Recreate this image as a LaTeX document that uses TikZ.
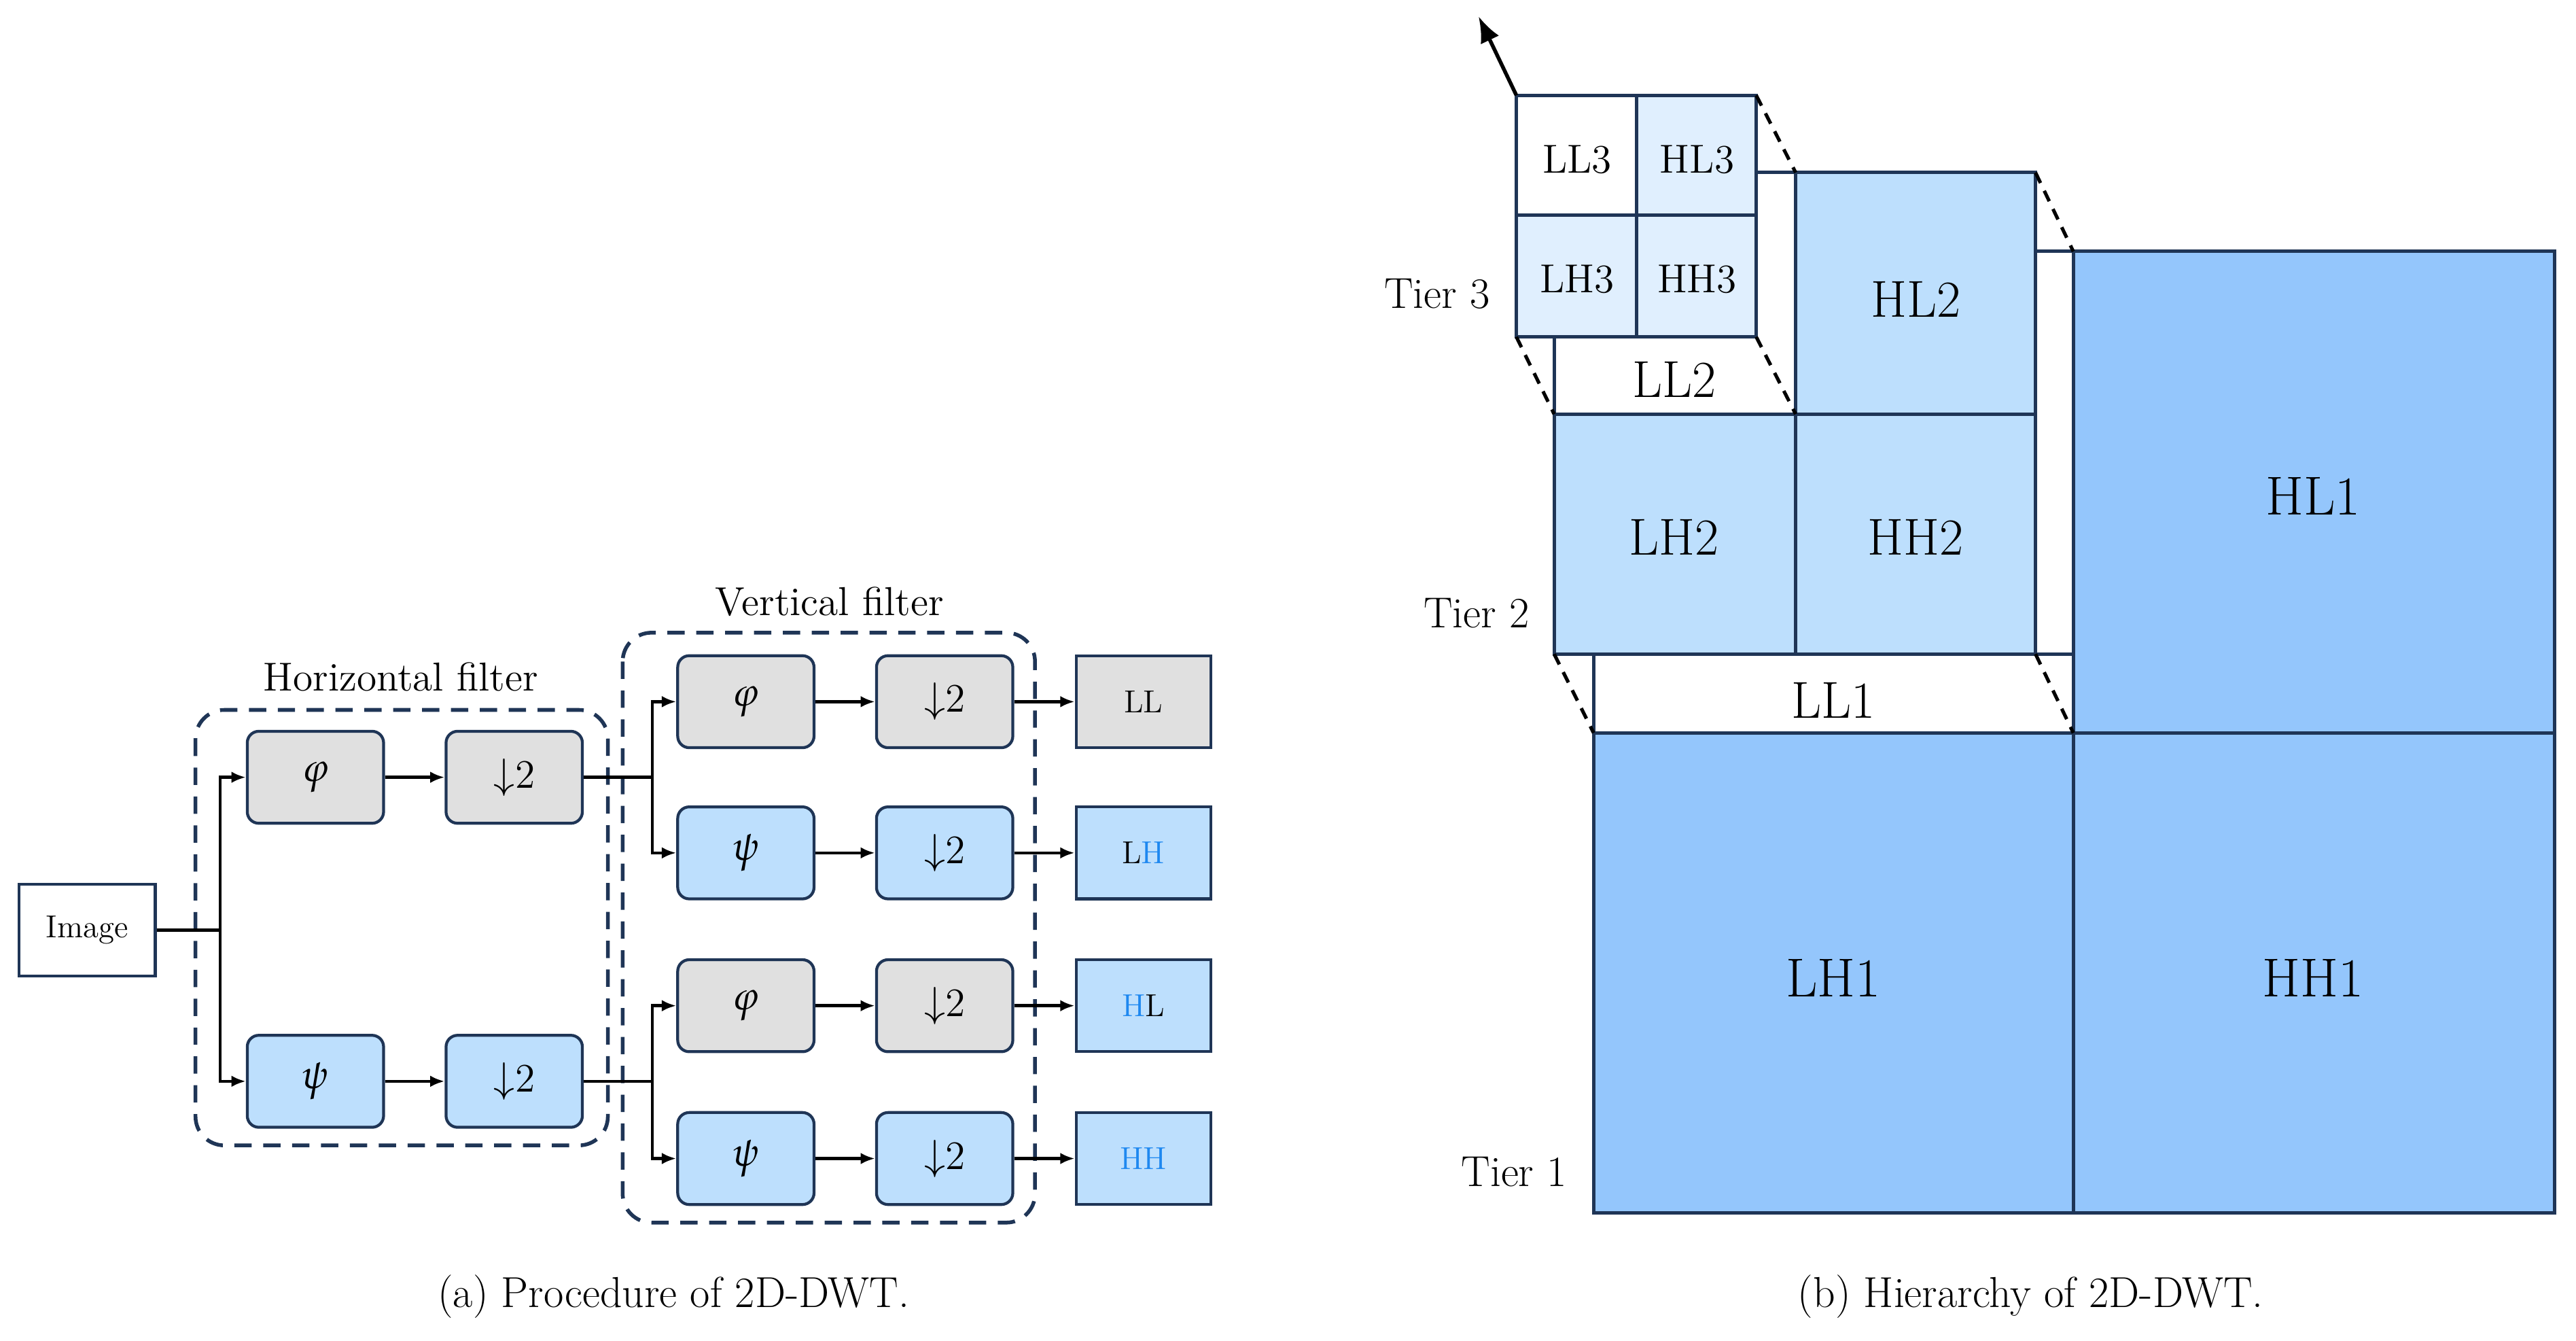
\documentclass[tikz,border=0pt]{standalone}
\usepackage{mathpazo}
\usepackage{tikz}
\usetikzlibrary{arrows.meta,positioning}
\definecolor{navy}{HTML}{1F3556}
\definecolor{greybox}{HTML}{E0E0E0}
\definecolor{bluebox}{HTML}{BDDFFD}
\definecolor{tierone}{HTML}{94C6FC}
\definecolor{tiertwo}{HTML}{BDDFFD}
\definecolor{tierthree}{HTML}{E0EFFE}
\definecolor{hlblue}{HTML}{1E88F0}

\begin{document}
\begin{tikzpicture}[
  x=0.02cm, y=-0.02cm,
  filt/.style={draw=navy,line width=1pt,rounded corners=4pt,minimum width=1.66cm,minimum height=1.12cm,inner sep=0pt,font=\fontsize{14}{16}\selectfont},
  gfilt/.style={filt,fill=greybox},
  bfilt/.style={filt,fill=bluebox},
  outbox/.style={draw=navy,line width=1pt,minimum width=1.64cm,minimum height=1.12cm,inner sep=0pt,font=\fontsize{11}{13}\selectfont},
  flow/.style={-{Latex[length=5pt,width=4pt]},line width=1.1pt},
  group/.style={draw=navy,dashed,line width=1.3pt,rounded corners=10pt,dash pattern=on 6pt off 4pt},
  sub/.style={draw=navy,line width=1.2pt},
  cut/.style={dashed,line width=1.2pt,dash pattern=on 4pt off 3pt},
  tier/.style={font=\fontsize{15}{18}\selectfont,anchor=east},
  ]
  \useasboundingbox (0,0) rectangle (1568,816);
  %Procedure
  \draw[group] (119,432) rectangle (370,697);
  \draw[group] (379,385) rectangle (630,744);
  \node[font=\bfseries\fontsize{14}{16}\selectfont] at (244,412) {Horizontal filter};
  \node[font=\bfseries\fontsize{14}{16}\selectfont] at (505,366) {Vertical filter};
  \node[outbox,minimum width=1.66cm] (img) at (53,566) {Image};
  \node[gfilt] (hphi) at (192,473) {$\varphi$};
  \node[gfilt] (hdphi) at (313,473) {$\downarrow$2};
  \node[bfilt] (hpsi) at (192,658) {$\psi$};
  \node[bfilt] (hdpsi) at (313,658) {$\downarrow$2};
  \node[gfilt] (vphia) at (454,427) {$\varphi$};
  \node[gfilt] (vda) at (575,427) {$\downarrow$2};
  \node[bfilt] (vpsib) at (454,519) {$\psi$};
  \node[bfilt] (vdb) at (575,519) {$\downarrow$2};
  \node[gfilt] (vphic) at (454,612) {$\varphi$};
  \node[gfilt] (vdc) at (575,612) {$\downarrow$2};
  \node[bfilt] (vpsid) at (454,705) {$\psi$};
  \node[bfilt] (vdd) at (575,705) {$\downarrow$2};
  \node[outbox,fill=greybox] (ll) at (696,427) {LL};
  \node[outbox,fill=bluebox] (lh) at (696,519) {L\textcolor{hlblue}{H}};
  \node[outbox,fill=bluebox] (hl) at (696,612) {\textcolor{hlblue}{H}L};
  \node[outbox,fill=bluebox] (hh) at (696,705) {\textcolor{hlblue}{HH}};
  \coordinate (s0) at (134,566);
  \coordinate (s1) at (397,473);
  \coordinate (s2) at (397,658);
  \draw[line width=1.1pt] (img.east) -- (s0);
  \draw[flow] (s0) |- (hphi.west);
  \draw[flow] (s0) |- (hpsi.west);
  \draw[flow] (hphi) -- (hdphi);
  \draw[flow] (hpsi) -- (hdpsi);
  \draw[line width=1.1pt] (hdphi.east) -- (s1);
  \draw[line width=1.1pt] (hdpsi.east) -- (s2);
  \draw[flow] (s1) |- (vphia.west);
  \draw[flow] (s1) |- (vpsib.west);
  \draw[flow] (s2) |- (vphic.west);
  \draw[flow] (s2) |- (vpsid.west);
  \foreach \a/\b/\c in {vphia/vda/ll,vpsib/vdb/lh,vphic/vdc/hl,vpsid/vdd/hh}{
    \draw[flow] (\a) -- (\b);
    \draw[flow] (\b) -- (\c);
  }
  \node[font=\fontsize{15}{18}\selectfont] (capa) at (410,789) {(\textbf{a}) Procedure of 2D-DWT.};
  %Hierarchy
  \draw[sub,fill=tierone] (1262,153) rectangle (1555,446);
  \draw[sub,fill=tierone] (970,446) rectangle (1262,738);
  \draw[sub,fill=tierone] (1262,446) rectangle (1555,738);
  \draw[sub] (970,446) -- (970,398) -- (1262,398);
  \draw[sub] (1239,153) -- (1262,153);
  \draw[sub,fill=tiertwo] (1093,105) rectangle (1239,252);
  \draw[sub,fill=tiertwo] (946,252) rectangle (1093,398);
  \draw[sub,fill=tiertwo] (1093,252) rectangle (1239,398);
  \draw[sub] (946,252) -- (946,205);
  \draw[sub] (1069,105) -- (1093,105);
  \draw[sub,fill=white] (923,58) rectangle (996,131);
  \draw[sub,fill=tierthree] (996,58) rectangle (1069,131);
  \draw[sub,fill=tierthree] (923,131) rectangle (996,205);
  \draw[sub,fill=tierthree] (996,131) rectangle (1069,205);
  \node[font=\fontsize{14}{16}\selectfont] (ll3) at (960,97) {LL3};
  \node[font=\fontsize{14}{16}\selectfont] (hl3) at (1033,97) {HL3};
  \node[font=\fontsize{14}{16}\selectfont] (lh3) at (960,170) {LH3};
  \node[font=\fontsize{14}{16}\selectfont] (hh3) at (1033,170) {HH3};
  \node[font=\fontsize{18}{20}\selectfont] (ll2) at (1019,231) {LL2};
  \node[font=\fontsize{18}{20}\selectfont] (hl2) at (1166,182) {HL2};
  \node[font=\fontsize{18}{20}\selectfont] (lh2) at (1019,327) {LH2};
  \node[font=\fontsize{18}{20}\selectfont] (hh2) at (1166,327) {HH2};
  \node[font=\fontsize{18}{20}\selectfont] (ll1) at (1116,426) {LL1};
  \node[font=\fontsize{19}{22}\selectfont] (hl1) at (1408,302) {HL1};
  \node[font=\fontsize{19}{22}\selectfont] (lh1) at (1116,595) {LH1};
  \node[font=\fontsize{19}{22}\selectfont] (hh1) at (1408,595) {HH1};
  \draw[cut] (1069,58) -- (1093,105);
  \draw[cut] (923,205) -- (946,252);
  \draw[cut] (1069,205) -- (1093,252);
  \draw[cut] (1239,105) -- (1262,153);
  \draw[cut] (946,398) -- (970,446);
  \draw[cut] (1239,398) -- (1262,446);
  \coordinate (apex) at (900,10);
  \draw[-{Latex[length=9pt,width=7pt]},line width=1.3pt] (923,58) -- (apex);
  \node[tier] (t3) at (913,179) {Tier 3};
  \node[tier] (t2) at (937,373) {Tier 2};
  \node[tier] (t1) at (960,713) {Tier 1};
  \node[font=\fontsize{15}{18}\selectfont] (capb) at (1236,789) {(\textbf{b}) Hierarchy of 2D-DWT.};
\end{tikzpicture}
\end{document}
